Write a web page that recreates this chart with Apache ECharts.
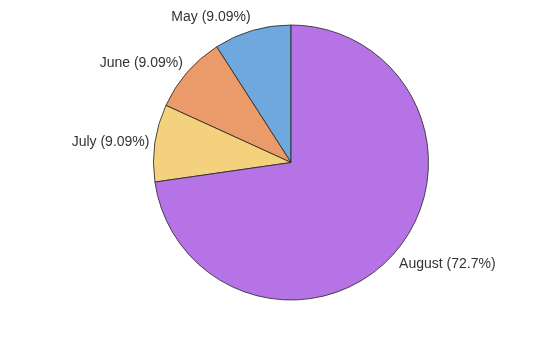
<!DOCTYPE html>
<html><head><meta charset="utf-8">
<script src="https://cdn.jsdelivr.net/npm/echarts@6/dist/echarts.min.js"></script>
<style>html,body{margin:0;padding:0;background:#fff}#c{width:560px;height:337px}</style>
</head><body><div id="c"></div>
<script>
const categories = ['May', 'June', 'July', 'August'];
const values = [1, 1, 1, 8];
const colors = ['#6fa8dc', '#eb9a69', '#f4d17c', '#b573e5'];

const total = values.reduce((a, b) => a + b, 0);
const CX = 291, CY = 162.5, RAD = 137.5, LABEL_RX = 143, LABEL_RY = 153;
function midAngle(i) {
  let cum = 0;
  for (let k = 0; k < i; k++) cum += values[k];
  return (90 + 360 * (cum + values[i] / 2) / total) * Math.PI / 180;
}
const chart = echarts.init(document.getElementById('c'), null, {renderer: 'canvas'});
chart.setOption({
  animation: false,
  backgroundColor: '#ffffff',
  series: [{
    type: 'pie',
    center: [CX, CY],
    radius: RAD,
    startAngle: 90,
    clockwise: false,
    avoidLabelOverlap: false,
    data: categories.map((c, i) => ({name: c, value: values[i], itemStyle: {color: colors[i]}})),
    itemStyle: {borderColor: '#222', borderWidth: 0.8},
    label: {
      show: true,
      position: 'outside',
      color: '#333',
      fontFamily: 'Liberation Sans, Arial, sans-serif',
      fontSize: 14,
      distanceToLabelLine: 0,
      formatter: p => {
        const pct = p.value / total * 100;
        return p.name + ' (' + (pct >= 10 ? pct.toFixed(1) : pct.toFixed(2)) + '%)';
      }
    },
    labelLine: {show: false, length: 10, length2: 0},
    labelLayout: params => {
      const a = midAngle(params.dataIndex);
      const dx = Math.cos(a), dy = -Math.sin(a);
      return {
        x: CX + LABEL_RX * dx,
        y: CY + LABEL_RY * dy + 1,
        align: dx < 0 ? 'right' : 'left',
        verticalAlign: 'middle'
      };
    },
    emphasis: {disabled: true}
  }]
});
</script></body></html>
